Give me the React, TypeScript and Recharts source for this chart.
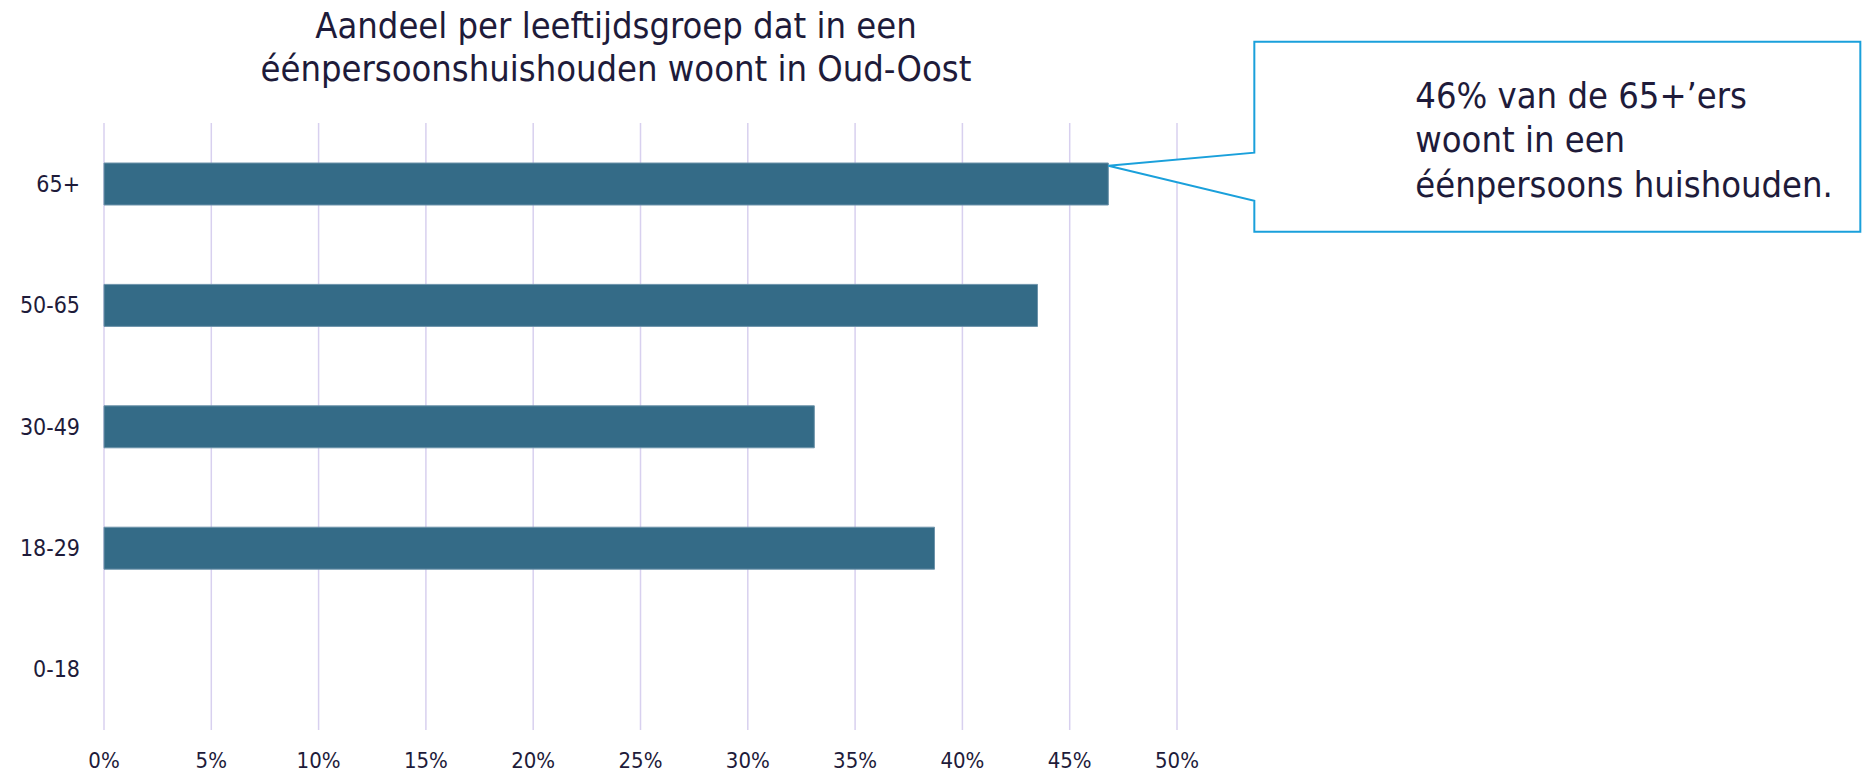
import React from 'react';
import { BarChart, Bar, XAxis, YAxis, CartesianGrid, ReferenceDot } from 'recharts';

const ageGroups = ['65+', '50-65', '30-49', '18-29', '0-18'];
const shareSingle = [46.8, 43.5, 33.1, 38.7, 0];
const xTicks = [0, 5, 10, 15, 20, 25, 30, 35, 40, 45, 50];

const titleLines = ['Aandeel per leeftijdsgroep dat in een', 'éénpersoonshuishouden woont in Oud-Oost'];
const calloutLines = ['46% van de 65+\u2019ers', 'woont in een', 'éénpersoons huishouden.'];

const data = ageGroups.map((g, i) => ({ name: g, value: shareSingle[i] }));

const FONT = "'DejaVu Sans Condensed', 'DejaVu Sans', sans-serif";
const TEXT = '#1e1b3a';
const BLUE = '#1aa0db';

// callout box drawn relative to the bar end of 65+
const Callout = (props: any) => {
  const { cx, cy } = props;
  if (cx == null || cy == null) return null;
  const tx = cx;
  const ty = cy - 18;
  const left = cx + 146;
  const right = cx + 752;
  const top = cy - 142;
  const bottom = cy + 48;
  const n1 = cy - 31;
  const n2 = cy + 17;
  const path = `M${left},${top} L${right},${top} L${right},${bottom} L${left},${bottom} L${left},${n2} L${tx},${ty} L${left},${n1} Z`;
  return (
    <g>
      <path d={path} fill="#fff" stroke={BLUE} strokeWidth={2} />
      {calloutLines.map((t, i) => (
        <text key={i} x={cx + 307} y={cy - 76 + i * 44.5} fill={TEXT} fontSize={36} fontFamily={FONT}>
          {t}
        </text>
      ))}
    </g>
  );
};

const App = () => {
  return (
    <div style={{ position: 'absolute', left: 0, top: 0, width: 1865, height: 778, background: '#fff' }}>
      <div
        style={{
          position: 'absolute',
          left: 216,
          top: 0,
          width: 800,
          textAlign: 'center',
          fontFamily: FONT,
          fontSize: 36,
          lineHeight: '43px',
          color: TEXT,
          paddingTop: 4,
        }}
      >
        {titleLines.map((t, i) => (
          <div key={i}>{t}</div>
        ))}
      </div>
      <BarChart
        width={1865}
        height={778}
        data={data}
        layout="vertical"
        margin={{ top: 123, right: 688, left: 0, bottom: 8 }}
        style={{ position: 'absolute', left: 0, top: 0 }}
      >
        <CartesianGrid horizontal={false} stroke="#d8d0ef" strokeWidth={1.5} />
        <XAxis
          type="number"
          domain={[0, 50]}
          ticks={xTicks}
          tickFormatter={(v: number) => `${v}%`}
          axisLine={false}
          tickLine={false}
          tickMargin={16}
          height={40}
          tick={{ fill: TEXT, fontSize: 22, fontFamily: FONT }}
        />
        <YAxis
          type="category"
          dataKey="name"
          width={104}
          axisLine={false}
          tickLine={false}
          tickMargin={18}
          tick={{ fill: TEXT, fontSize: 23, fontFamily: FONT }}
        />
        <Bar dataKey="value" fill="#346b87" stroke="#6d93aa" strokeWidth={1} barSize={42} isAnimationActive={false} />
        <ReferenceDot x={shareSingle[0]} y={ageGroups[0]} ifOverflow="visible" shape={Callout} />
      </BarChart>
    </div>
  );
};

export default App;
